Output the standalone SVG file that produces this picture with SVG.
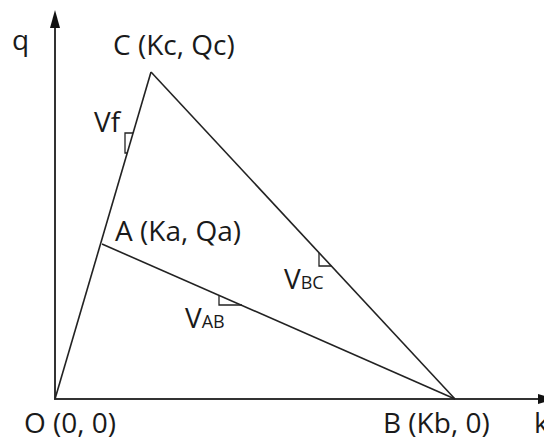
<svg xmlns="http://www.w3.org/2000/svg" width="544" height="442" viewBox="0 0 544 442">
<defs>
<style>
.axis{stroke:#333;stroke-width:2;fill:none}
.edge{stroke:#222;stroke-width:1.6;fill:none}
.mark{stroke:#222;stroke-width:1.3;fill:none}
.lbl{font-family:"Open Sans","Liberation Sans",sans-serif;font-size:28px;fill:#1a1a1a}
.sub{font-size:18px}
</style>
</defs>
<rect width="544" height="442" fill="#fff"/>
<g id="connectors">
<line id="y-axis" class="axis" x1="55" y1="399" x2="55" y2="28"/>
<path d="M55,10 L50,28 L60,28 Z" fill="#111"/>
<line id="x-axis" class="axis" x1="54" y1="399" x2="540" y2="399"/>
<path d="M556,399 L538,394 L538,404 Z" fill="#111"/>
<line id="OC" class="edge" x1="55" y1="399" x2="151" y2="72"/>
<line id="CB" class="edge" x1="151" y1="72" x2="455" y2="399"/>
<line id="AB" class="edge" x1="102" y1="244" x2="455" y2="399"/>
<polyline class="mark" points="133,133 125,133 125,153 127.3,153"/>
<polyline class="mark" points="219,295.4 219,305 242,305"/>
<polyline class="mark" points="319,253 319,266 331.5,266"/>
</g>
<g id="node-q"><text class="lbl" x="12" y="50">q</text></g>
<g id="node-k"><text class="lbl" x="534" y="433">k</text></g>
<g id="node-C"><text class="lbl" x="113" y="55">C (Kc, Qc)</text></g>
<g id="node-A"><text class="lbl" x="115" y="241">A (Ka, Qa)</text></g>
<g id="node-O"><text class="lbl" x="24" y="433">O (0, 0)</text></g>
<g id="node-B"><text class="lbl" x="383" y="433">B (Kb, 0)</text></g>
<g id="node-Vf"><text class="lbl" x="94" y="132">Vf</text></g>
<g id="node-VAB"><text class="lbl" x="185" y="328">V<tspan class="sub">AB</tspan></text></g>
<g id="node-VBC"><text class="lbl" x="284" y="289">V<tspan class="sub">BC</tspan></text></g>
</svg>
